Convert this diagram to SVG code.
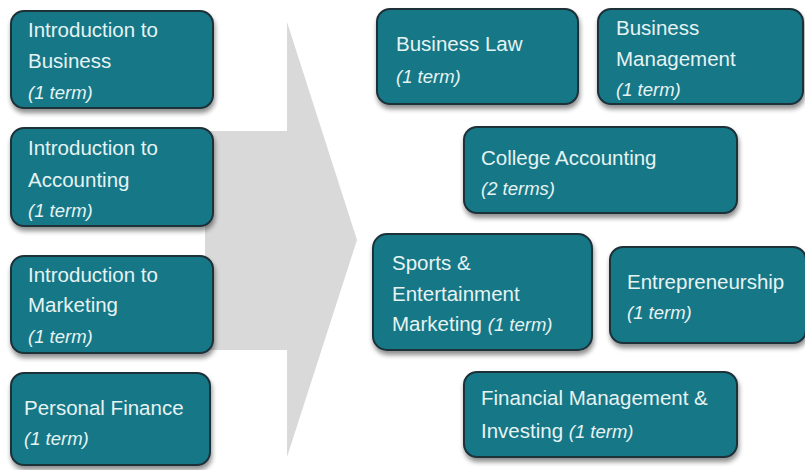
<svg xmlns="http://www.w3.org/2000/svg" width="805" height="470" viewBox="0 0 805 470">
<defs>
<filter id="sh" x="-10%" y="-10%" width="120%" height="130%">
<feGaussianBlur in="SourceAlpha" stdDeviation="2.5"/>
<feOffset dx="1" dy="4" result="b"/>
<feComponentTransfer><feFuncA type="linear" slope="0.45"/></feComponentTransfer>
<feMerge><feMergeNode/><feMergeNode in="SourceGraphic"/></feMerge>
</filter>
</defs>
<style>
.box{fill:#157787;stroke:#1c3038;stroke-width:2;filter:url(#sh)}
text{font-family:"Liberation Sans",Arial,sans-serif;font-size:20.5px;fill:#e6f3f3}
.it{font-style:italic;font-size:18.5px}
</style>
<rect width="805" height="470" fill="#ffffff"/>
<g id="connectors">
<polygon points="205,131 287,131 287,22 357,240 287,457 287,350 205,350" fill="#d9d9d9"/>
</g>
<g id="intro-business">
<rect class="box" x="11" y="11" width="202" height="97" rx="13"/>
<text x="28" y="37">Introduction to</text>
<text x="28" y="68">Business</text>
<text class="it" x="28" y="99">(1 term)</text>
</g>
<g id="intro-accounting">
<rect class="box" x="11" y="128" width="202" height="98" rx="13"/>
<text x="28" y="155">Introduction to</text>
<text x="28" y="187">Accounting</text>
<text class="it" x="28" y="217">(1 term)</text>
</g>
<g id="intro-marketing">
<rect class="box" x="11" y="256" width="202" height="97" rx="13"/>
<text x="28" y="282">Introduction to</text>
<text x="28" y="312">Marketing</text>
<text class="it" x="28" y="343">(1 term)</text>
</g>
<g id="personal-finance">
<rect class="box" x="11" y="373" width="199" height="92" rx="13"/>
<text x="24" y="415">Personal Finance</text>
<text class="it" x="24" y="445">(1 term)</text>
</g>
<g id="business-law">
<rect class="box" x="377" y="9" width="201" height="95" rx="13"/>
<text x="396" y="51">Business Law</text>
<text class="it" x="396" y="83">(1 term)</text>
</g>
<g id="business-management">
<rect class="box" x="598" y="9" width="205" height="95" rx="13"/>
<text x="616" y="35">Business</text>
<text x="616" y="66">Management</text>
<text class="it" x="616" y="96">(1 term)</text>
</g>
<g id="college-accounting">
<rect class="box" x="464" y="127" width="273" height="86" rx="13"/>
<text x="481" y="165">College Accounting</text>
<text class="it" x="481" y="195">(2 terms)</text>
</g>
<g id="sports-marketing">
<rect class="box" x="373" y="234" width="219" height="116" rx="14"/>
<text x="392" y="270">Sports &amp;</text>
<text x="392" y="301">Entertainment</text>
<text x="392" y="331">Marketing <tspan class="it">(1 term)</tspan></text>
</g>
<g id="entrepreneurship">
<rect class="box" x="610" y="247" width="196" height="96" rx="13"/>
<text x="627" y="289">Entrepreneurship</text>
<text class="it" x="627" y="319">(1 term)</text>
</g>
<g id="financial-management">
<rect class="box" x="464" y="372" width="273" height="85" rx="13"/>
<text x="481" y="405">Financial Management &amp;</text>
<text x="481" y="438">Investing <tspan class="it">(1 term)</tspan></text>
</g>
</svg>
